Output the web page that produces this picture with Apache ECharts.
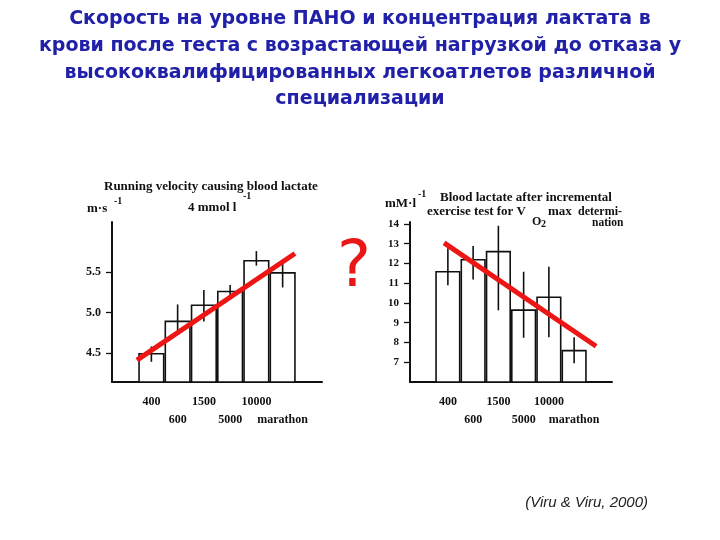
<!DOCTYPE html>
<html><head><meta charset="utf-8">
<script src="https://cdn.jsdelivr.net/npm/echarts@6/dist/echarts.min.js"></script>
<style>html,body{margin:0;padding:0;background:#fff}#c{width:720px;height:540px}</style>
</head><body><div id="c"></div>
<script>
// ---- data ----
const categories = ['', '400', '600', '1500', '5000', '10000', 'marathon', ''];
const velocity = [4.5, 4.9, 5.1, 5.27, 5.65, 5.5];            // m·s-1
const velocityLow = [4.39, 4.78, 4.89, 5.16, 5.58, 5.31];
const velocityHigh = [4.58, 5.1, 5.28, 5.34, 5.76, 5.64];
const lactate = [11.62, 12.23, 12.64, 9.68, 10.33, 7.63];      // mM·l-1
const lactateLow = [10.9, 11.19, 9.63, 8.24, 8.27, 6.95];
const lactateHigh = [12.77, 12.89, 13.91, 11.58, 11.84, 8.27];
const velocityTrend = [[0.95, 4.41], [6.97, 5.73]];
const lactateTrend = [[1.35, 13.04], [7.37, 7.81]];
const velocityTicks = [4.5, 5.0, 5.5];
const lactateTicks = [7, 8, 9, 10, 11, 12, 13, 14];

const padBars = v => ['-'].concat(v, ['-']);
const errData = (lo, hi) => lo.map((l, i) => [i + 1, l, hi[i]]);

const labFont = {fontFamily: 'Liberation Serif', fontWeight: 'bold', fontSize: 12, color: '#111'};
const errRender = (params, api) => {
  const x = api.value(0);
  const a = api.coord([x, api.value(1)]);
  const b = api.coord([x, api.value(2)]);
  return {type: 'line', shape: {x1: a[0], y1: a[1], x2: b[0], y2: b[1]}, style: {stroke: '#111', lineWidth: 1.6}};
};

function catAxis(grid) {
  return {
    type: 'category', gridIndex: grid, data: categories, boundaryGap: true,
    axisLine: {lineStyle: {color: '#111', width: 2}},
    axisTick: {show: false},
    axisLabel: Object.assign({}, labFont, {
      interval: 0, margin: 11, lineHeight: 18,
      formatter: (v, i) => (i % 2 === 0 ? '\n' + v : v)
    })
  };
}
function hiddenX(grid) {
  return {type: 'value', gridIndex: grid, min: 0, max: 8, show: false};
}
function valAxis(grid, min, max, ticks, fmt, size) {
  return {
    type: 'value', gridIndex: grid, min: min, max: max, splitLine: {show: false},
    axisLine: {show: true, lineStyle: {color: '#111', width: 2}},
    axisTick: {show: true, length: 6, customValues: ticks, lineStyle: {color: '#111', width: 1.3}},
    axisLabel: Object.assign({}, labFont, {fontSize: size, margin: 11, customValues: ticks, formatter: fmt})
  };
}

const chart = echarts.init(document.getElementById('c'));
const tSmall = (x, y, text, size) => ({
  type: 'text', x: x, y: y,
  style: {text: text, font: 'bold ' + size + 'px "Liberation Serif"', fill: '#111', textAlign: 'left', textVerticalAlign: 'middle'}
});

chart.setOption({
  animation: false,
  grid: [
    {left: 112, top: 222, width: 210, height: 160},
    {left: 410, top: 222, width: 202, height: 160}
  ],
  xAxis: [catAxis(0), catAxis(1), hiddenX(0), hiddenX(1)],
  yAxis: [
    valAxis(0, 4.14, 6.12, velocityTicks, v => v.toFixed(1), 12),
    valAxis(1, 6, 14.1, lactateTicks, v => String(v), 11)
  ],
  series: [
    {type: 'bar', xAxisIndex: 0, yAxisIndex: 0, data: padBars(velocity), barCategoryGap: '0%',
      itemStyle: {color: '#fff', borderColor: '#111', borderWidth: 1.6}},
    {type: 'bar', xAxisIndex: 1, yAxisIndex: 1, data: padBars(lactate), barCategoryGap: '0%',
      itemStyle: {color: '#fff', borderColor: '#111', borderWidth: 1.6}},
    {type: 'custom', xAxisIndex: 0, yAxisIndex: 0, data: errData(velocityLow, velocityHigh), renderItem: errRender, encode: {x: 0, y: [1, 2]}, z: 3},
    {type: 'custom', xAxisIndex: 1, yAxisIndex: 1, data: errData(lactateLow, lactateHigh), renderItem: errRender, encode: {x: 0, y: [1, 2]}, z: 3},
    {type: 'line', xAxisIndex: 2, yAxisIndex: 0, data: velocityTrend, symbol: 'none', z: 5,
      lineStyle: {color: '#ee1515', width: 5}},
    {type: 'line', xAxisIndex: 3, yAxisIndex: 1, data: lactateTrend, symbol: 'none', z: 5,
      lineStyle: {color: '#ee1515', width: 5}}
  ],
  graphic: [
    {type: 'text', x: 360, y: 6, style: {
      text: 'Скорость на уровне ПАНО и концентрация лактата в\nкрови после теста с возрастающей нагрузкой до отказа у\nвысококвалифицированных легкоатлетов различной\nспециализации',
      font: 'bold 19px "DejaVu Sans"', fill: '#2020a8', textAlign: 'center', textVerticalAlign: 'top', lineHeight: 26.7}},
    {type: 'text', x: 354, y: 269, style: {text: '?', font: '64px "DejaVu Sans"', fill: '#e81818', textAlign: 'center', textVerticalAlign: 'middle'}},
    {type: 'text', x: 648, y: 503, style: {text: '(Viru & Viru, 2000)', font: 'italic 15px "Liberation Sans"', fill: '#222', textAlign: 'right', textVerticalAlign: 'middle'}},
    // left panel texts
    tSmall(104, 187, 'Running velocity causing blood lactate', 13),
    tSmall(188, 208, '4 mmol l', 13),
    tSmall(243, 196, '-1', 10),
    tSmall(87, 209, 'm·s', 13),
    tSmall(114, 201, '-1', 10),
    // right panel texts
    tSmall(385, 204, 'mM·l', 13),
    tSmall(418, 194, '-1', 10),
    tSmall(440, 198, 'Blood lactate after incremental', 13),
    tSmall(427, 212, 'exercise test for V', 13),
    tSmall(548, 212, 'max', 13),
    tSmall(578, 212, 'determi-', 12),
    tSmall(532, 222, 'O', 12),
    tSmall(541, 224, '2', 10),
    tSmall(592, 223, 'nation', 11.5)
  ]
});
</script></body></html>
